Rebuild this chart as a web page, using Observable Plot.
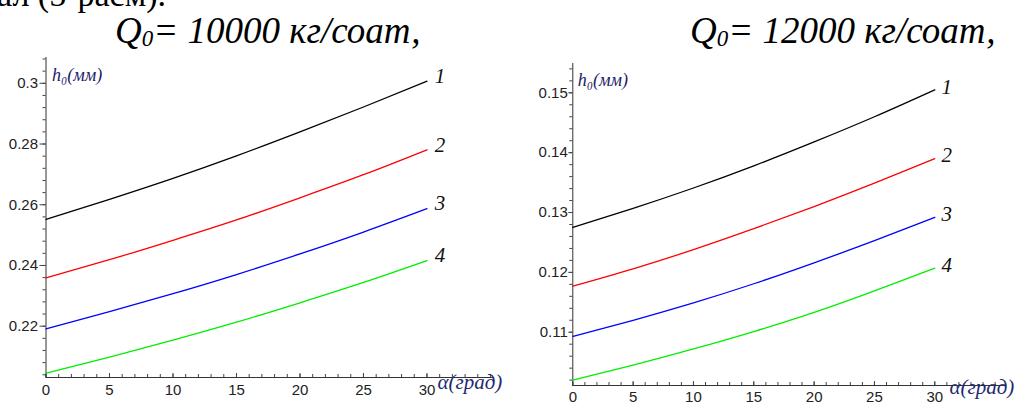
<!DOCTYPE html>
<html>
<head>
<meta charset="utf-8">
<script src="https://cdn.jsdelivr.net/npm/d3@7"></script>
<script src="https://cdn.jsdelivr.net/npm/@observablehq/plot@0.6"></script>
<style>
  html, body { margin: 0; padding: 0; background: #fff; overflow: hidden; }
  #wrap { position: relative; width: 1016px; height: 405px; overflow: hidden; background: #fff; }
  #wrap > div, #wrap > svg { position: absolute; }
  .pl svg { overflow: visible; }
</style>
</head>
<body>
<div id="wrap">
  <svg id="titles" width="1016" height="60" style="left:0;top:0;overflow:visible">
    <text x="-3" y="6" font-family="Liberation Serif, Times New Roman, serif" font-size="34" fill="#000">ал (5-расм).</text>
    <text id="t1" x="115" y="43" font-family="Liberation Serif, Times New Roman, serif" font-style="italic" font-size="37" fill="#000"></text>
    <text id="t2" x="690" y="43" font-family="Liberation Serif, Times New Roman, serif" font-style="italic" font-size="37" fill="#000"></text>
  </svg>
  <div id="left" class="pl" style="left:0;top:50px"></div>
  <div id="right" class="pl" style="left:520px;top:50px"></div>
</div>
<script>
// ---- data ----
const alpha = [0, 5, 10, 15, 20, 25, 30];
const seriesNames = ["1", "2", "3", "4"];
const seriesColors = ["#000000", "#ff0000", "#0000ff", "#00ee00"];

// Q0 = 10000 кг/соат
const left1 = [0.2552, 0.2618, 0.2687, 0.2761, 0.2840, 0.2922, 0.3007];
const left2 = [0.2359, 0.2419, 0.2483, 0.2550, 0.2623, 0.2699, 0.2781];
const left3 = [0.2191, 0.2248, 0.2307, 0.2370, 0.2438, 0.2510, 0.2587];
const left4 = [0.2045, 0.2098, 0.2154, 0.2213, 0.2277, 0.2344, 0.2416];

// Q0 = 12000 кг/соат
const right1 = [0.1275, 0.1307, 0.1341, 0.1378, 0.1418, 0.1460, 0.1505];
const right2 = [0.1177, 0.1206, 0.1238, 0.1273, 0.1310, 0.1349, 0.1390];
const right3 = [0.1093, 0.1120, 0.1149, 0.1181, 0.1216, 0.1253, 0.1292];
const right4 = [0.1020, 0.1045, 0.1072, 0.1101, 0.1133, 0.1169, 0.1207];

const titleLeft = ["Q", "0", "= 10000 кг/соат,"];
const titleRight = ["Q", "0", "= 12000 кг/соат,"];
const yLabel = "h₀(мм)";
const xLabel = "α(град)";

const xTicks = [0, 5, 10, 15, 20, 25, 30];
const xTickLabels = ["0", "5", "10", "15", "20", "25", "30"];
const leftYTicks = [0.22, 0.24, 0.26, 0.28, 0.3];
const leftYTickLabels = ["0.22", "0.24", "0.26", "0.28", "0.3"];
const rightYTicks = [0.11, 0.12, 0.13, 0.14, 0.15];
const rightYTickLabels = ["0.11", "0.12", "0.13", "0.14", "0.15"];

// ---- titles ----
function fillTitle(id, parts) {
  const t = document.getElementById(id);
  const ns = "http://www.w3.org/2000/svg";
  const a = document.createElementNS(ns, "tspan"); a.textContent = parts[0];
  const b = document.createElementNS(ns, "tspan"); b.textContent = parts[1];
  b.setAttribute("font-size", "23"); b.setAttribute("dy", "3");
  const c = document.createElementNS(ns, "tspan"); c.textContent = parts[2];
  c.setAttribute("dy", "-3");
  t.append(a, b, c);
}
fillTitle("t1", titleLeft);
fillTitle("t2", titleRight);

function toRows(arrays) {
  return arrays.flatMap((arr, k) => arr.map((h, i) => ({alpha: alpha[i], h, series: seriesNames[k]})));
}

function makeChart(cfg) {
  const rows = toRows(cfg.series);
  const yMap = new Map(cfg.yTicks.map((t, i) => [t, cfg.yTickLabels[i]]));
  const xMap = new Map(xTicks.map((t, i) => [t, xTickLabels[i]]));
  const xMinor = d3.range(0, Math.floor(cfg.xMax) + 1, 1);
  const yMinor = d3.range(cfg.yMinorStart, cfg.yDomain[1], cfg.yMinorStep);
  const blank = () => "";
  return Plot.plot({
    width: cfg.width, height: cfg.height,
    marginLeft: cfg.marginLeft, marginRight: cfg.marginRight,
    marginTop: cfg.marginTop, marginBottom: cfg.marginBottom,
    x: {domain: [0, cfg.xMax], axis: null},
    y: {domain: cfg.yDomain, axis: null},
    color: {domain: seriesNames, range: seriesColors},
    style: {fontFamily: "Liberation Sans, Arial, sans-serif", fontSize: "15px", background: "transparent", overflow: "visible", color: "#222"},
    marks: [
      Plot.axisY(yMinor, {anchor: "left", tickSize: 3, tickFormat: blank, label: null, stroke: "#444"}),
      Plot.axisY(cfg.yTicks, {anchor: "left", tickSize: cfg.yTickSize, tickPadding: cfg.yTickPadding, tickFormat: d => yMap.get(d), label: null, fontSize: 15, stroke: "#444", fill: "#222"}),
      Plot.axisX(xMinor, {anchor: "bottom", tickSize: 3, dy: -3, tickFormat: blank, label: null, stroke: "#444"}),
      Plot.axisX(xTicks, {anchor: "bottom", tickSize: 4, dy: -4, tickFormat: blank, label: null, stroke: "#444"}),
      Plot.axisX(xTicks, {anchor: "bottom", tickSize: 0, tickPadding: cfg.xTickPadding, tickFormat: d => xMap.get(d), label: null, fontSize: 15, fill: "#222"}),
      Plot.frame({anchor: "left", stroke: "#333"}),
      Plot.frame({anchor: "bottom", stroke: "#333"}),
      Plot.line(rows, {x: "alpha", y: "h", z: "series", stroke: "series", strokeWidth: 1.3, curve: "natural"}),
      Plot.text(rows.filter(d => d.alpha === 30), {x: "alpha", y: "h", text: "series", dx: cfg.numDx, dy: cfg.numDy, textAnchor: "middle", fontFamily: "Liberation Serif, Times New Roman, serif", fontStyle: "italic", fontSize: 21, fill: "#111"}),
      Plot.text([yLabel], {frameAnchor: "top-left", text: d => d, textAnchor: "start", dx: cfg.yLabelDx, dy: cfg.yLabelDy, fontFamily: "Liberation Serif, Times New Roman, serif", fontStyle: "italic", fontSize: 18, fill: "#1e2266"}),
      Plot.text([xLabel], {frameAnchor: "bottom-right", text: d => d, textAnchor: "start", dx: cfg.xLabelDx, dy: cfg.xLabelDy, fontFamily: "Liberation Serif, Times New Roman, serif", fontStyle: "italic", fontSize: 21, fill: "#1e2a70"})
    ]
  });
}

document.getElementById("left").append(makeChart({
  series: [left1, left2, left3, left4],
  width: 520, height: 350, marginLeft: 45.5, marginRight: 28, marginTop: 7, marginBottom: 23,
  xMax: 35.16, yDomain: [0.2031, 0.3085],
  yTicks: leftYTicks, yTickLabels: leftYTickLabels, yMinorStart: 0.204, yMinorStep: 0.004,
  yTickSize: 6, yTickPadding: 2, xTickPadding: 7,
  numDx: 13, numDy: -5, yLabelDx: 6, yLabelDy: 11, xLabelDx: -55, xLabelDy: 11
}));

document.getElementById("right").append(makeChart({
  series: [right1, right2, right3, right4],
  width: 496, height: 355, marginLeft: 52.3, marginRight: 11, marginTop: 13, marginBottom: 20,
  xMax: 35.86, yDomain: [0.1011, 0.1549],
  yTicks: rightYTicks, yTickLabels: rightYTickLabels, yMinorStart: 0.102, yMinorStep: 0.002,
  yTickSize: 4, yTickPadding: 1, xTickPadding: 6,
  numDx: 12, numDy: -3, yLabelDx: 5, yLabelDy: 10, xLabelDx: -56, xLabelDy: 8
}));
</script>
</body>
</html>
